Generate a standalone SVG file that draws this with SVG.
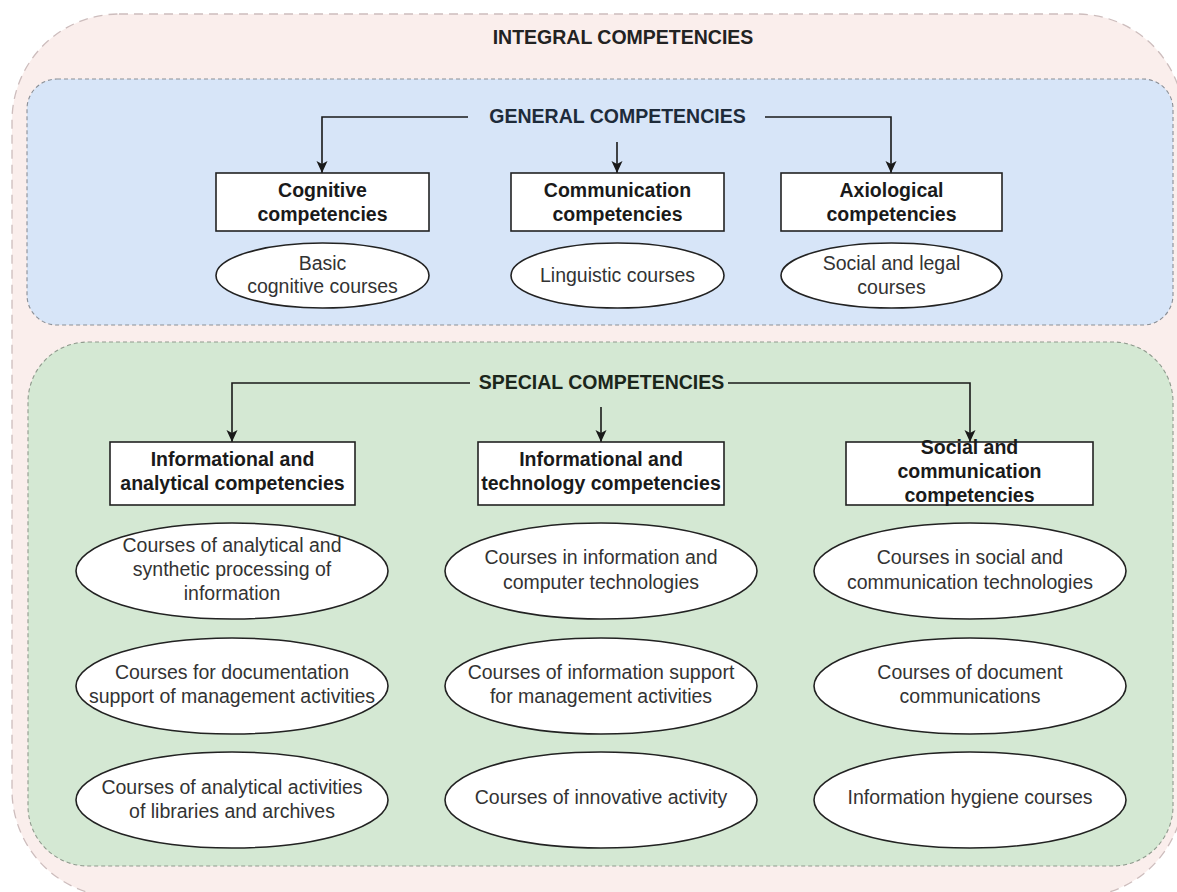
<svg xmlns="http://www.w3.org/2000/svg" width="1177" height="892" viewBox="0 0 1177 892">
<style>
text{font-family:"Liberation Sans",Arial,sans-serif;font-size:19.5px;text-anchor:middle}
.t{font-weight:bold;fill:#1a1a1a}
.h{font-weight:bold}
.c{fill:#333}
.box{fill:#fff;stroke:#222;stroke-width:1.6}
.ell{fill:#fff;stroke:#222;stroke-width:1.6}
.con{fill:none;stroke:#1a1a1a;stroke-width:1.6}
</style>
<defs>
<marker id="arr" markerUnits="userSpaceOnUse" markerWidth="14" markerHeight="14" refX="12" refY="7" orient="auto">
<path d="M0,1.5 L12,7 L0,12.5 L3,7 z" fill="#1a1a1a"/>
</marker>
</defs>
<rect id="integral" x="12" y="14" width="1172" height="883" rx="107" fill="#faeeec" stroke="#cdbdbd" stroke-width="1.3" stroke-dasharray="9 6"/>
<text class="h" x="623" y="44" fill="#222">INTEGRAL COMPETENCIES</text>
<g id="general">
<rect x="27" y="79" width="1146" height="246" rx="30" fill="#d7e5f8" stroke="#8a8f96" stroke-width="1.1" stroke-dasharray="4 3"/>
<text class="h" x="617.5" y="123" fill="#1e2b3a">GENERAL COMPETENCIES</text>
</g>
<g id="special">
<rect x="28" y="342" width="1145" height="524" rx="60" fill="#d4e8d3" stroke="#8f9a8d" stroke-width="1.1" stroke-dasharray="4 3"/>
<text class="h" x="601.5" y="389" fill="#1b261b">SPECIAL COMPETENCIES</text>
</g>
<g id="connectors">
<path class="con" d="M468,117 H322 V173" marker-end="url(#arr)"/>
<path class="con" d="M765,117 H891 V173" marker-end="url(#arr)"/>
<path class="con" d="M617,142 V173" marker-end="url(#arr)"/>
<path class="con" d="M470,383 H232 V442" marker-end="url(#arr)"/>
<path class="con" d="M728,383 H970 V442" marker-end="url(#arr)"/>
<path class="con" d="M601,407 V442" marker-end="url(#arr)"/>
</g>
<g id="cognitive"><rect class="box" x="216" y="173" width="213" height="58"/><text class="t" x="322.5" y="197">Cognitive</text><text class="t" x="322.5" y="221">competencies</text></g>
<g id="communication"><rect class="box" x="511" y="173" width="213" height="58"/><text class="t" x="617.5" y="197">Communication</text><text class="t" x="617.5" y="221">competencies</text></g>
<g id="axiological"><rect class="box" x="781" y="173" width="221" height="58"/><text class="t" x="891.5" y="197">Axiological</text><text class="t" x="891.5" y="221">competencies</text></g>
<g id="basic"><ellipse class="ell" cx="322.5" cy="275.5" rx="106.5" ry="32.5"/><text class="c" x="322.5" y="270">Basic</text><text class="c" x="322.5" y="293">cognitive courses</text></g>
<g id="linguistic"><ellipse class="ell" cx="617.5" cy="275.5" rx="106.5" ry="32.5"/><text class="c" x="617.5" y="282">Linguistic courses</text></g>
<g id="social-legal"><ellipse class="ell" cx="891.5" cy="275.5" rx="110.5" ry="32.5"/><text class="c" x="891.5" y="270">Social and legal</text><text class="c" x="891.5" y="294">courses</text></g>
<g id="info-analytical"><rect class="box" x="110" y="442" width="245" height="63"/><text class="t" x="232.5" y="466">Informational and</text><text class="t" x="232.5" y="490">analytical competencies</text></g>
<g id="info-tech"><rect class="box" x="478" y="442" width="246" height="63"/><text class="t" x="601" y="466">Informational and</text><text class="t" x="601" y="490">technology competencies</text></g>
<g id="social-comm"><rect class="box" x="846" y="442" width="247" height="63"/><text class="t" x="969.5" y="454">Social and</text><text class="t" x="969.5" y="478">communication</text><text class="t" x="969.5" y="502">competencies</text></g>
<g id="e11"><ellipse class="ell" cx="232" cy="571" rx="156" ry="48"/><text class="c" x="232" y="552">Courses of analytical and</text><text class="c" x="232" y="576">synthetic processing of</text><text class="c" x="232" y="600">information</text></g>
<g id="e12"><ellipse class="ell" cx="601" cy="571" rx="156" ry="48"/><text class="c" x="601" y="564">Courses in information and</text><text class="c" x="601" y="589">computer technologies</text></g>
<g id="e13"><ellipse class="ell" cx="970" cy="571" rx="156" ry="48"/><text class="c" x="970" y="564">Courses in social and</text><text class="c" x="970" y="589">communication technologies</text></g>
<g id="e21"><ellipse class="ell" cx="232" cy="686" rx="156" ry="48"/><text class="c" x="232" y="679">Courses for documentation</text><text class="c" x="232" y="703">support of management activities</text></g>
<g id="e22"><ellipse class="ell" cx="601" cy="686" rx="156" ry="48"/><text class="c" x="601" y="679">Courses of information support</text><text class="c" x="601" y="703">for management activities</text></g>
<g id="e23"><ellipse class="ell" cx="970" cy="686" rx="156" ry="48"/><text class="c" x="970" y="679">Courses of document</text><text class="c" x="970" y="703">communications</text></g>
<g id="e31"><ellipse class="ell" cx="232" cy="800" rx="156" ry="48"/><text class="c" x="232" y="794">Courses of analytical activities</text><text class="c" x="232" y="818">of libraries and archives</text></g>
<g id="e32"><ellipse class="ell" cx="601" cy="800" rx="156" ry="48"/><text class="c" x="601" y="804">Courses of innovative activity</text></g>
<g id="e33"><ellipse class="ell" cx="970" cy="800" rx="156" ry="48"/><text class="c" x="970" y="804">Information hygiene courses</text></g>
</svg>
